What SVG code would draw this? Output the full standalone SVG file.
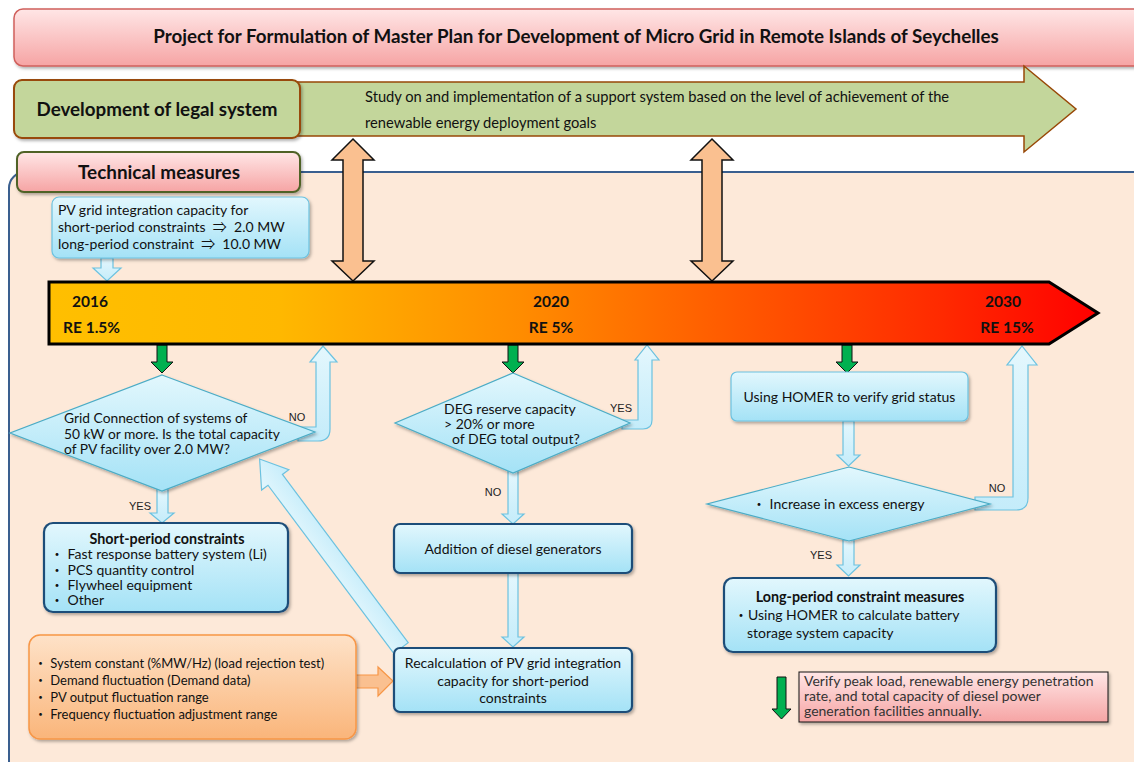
<svg xmlns="http://www.w3.org/2000/svg" width="1134" height="762" viewBox="0 0 1134 762">
<defs>
<linearGradient id="gPink" x1="0" y1="0" x2="0" y2="1"><stop offset="0" stop-color="#ffe6e6"/><stop offset="1" stop-color="#f6a4a4"/></linearGradient>
<linearGradient id="gBlue" x1="0" y1="0" x2="0" y2="1"><stop offset="0" stop-color="#e2f7fd"/><stop offset="1" stop-color="#a4e2f6"/></linearGradient>
<linearGradient id="gArrowBlue" x1="0" y1="0" x2="0" y2="1"><stop offset="0" stop-color="#e4f7fd"/><stop offset="1" stop-color="#c4ecfa"/></linearGradient>
<linearGradient id="gOrange" x1="0" y1="0" x2="0" y2="1"><stop offset="0" stop-color="#fee2c8"/><stop offset="1" stop-color="#fab57a"/></linearGradient>
<linearGradient id="gTime" x1="0" y1="0" x2="1" y2="0"><stop offset="0" stop-color="#ffbf00"/><stop offset="0.22" stop-color="#ffb800"/><stop offset="0.45" stop-color="#ff8c00"/><stop offset="0.65" stop-color="#ff5a00"/><stop offset="0.85" stop-color="#ff2a00"/><stop offset="1" stop-color="#ff0000"/></linearGradient>
<filter id="sh" x="-10%" y="-10%" width="125%" height="140%"><feDropShadow dx="1.5" dy="2" stdDeviation="1.5" flood-color="#000" flood-opacity="0.3"/></filter>
<style>
text{font-family:Lato,"Liberation Sans","Noto Sans CJK JP",sans-serif;fill:#111}
.b{font-weight:bold}
.t13{font-size:13px}
.t14{font-size:14px}
.lbl{font-family:"Liberation Sans",Arial,sans-serif;font-size:11px;fill:#222}
.node{fill:url(#gBlue);filter:url(#sh)}
.dk{stroke:#1f4e79;stroke-width:2.2}
.lt{stroke:#6cc2e0;stroke-width:1.2}
.dia{fill:url(#gBlue);stroke:#4bacc6;stroke-width:1.2;filter:url(#sh)}
.ab{fill:url(#gArrowBlue);stroke:#6cc2e0;stroke-width:1.2}
.ag{fill:#00b050;stroke:#111;stroke-width:1}
.ao{fill:#fac090;stroke:#111;stroke-width:1.5}
</style>
</defs>
<rect width="1134" height="762" fill="#ffffff"/>

<g id="header">
<rect x="14" y="9" width="1140" height="57" rx="9" fill="url(#gPink)" stroke="#d0605c" stroke-width="1.5" filter="url(#sh)"/>
<text x="576" y="43" text-anchor="middle" class="b" font-size="18.8">Project for Formulation of Master Plan for Development of Micro Grid in Remote Islands of Seychelles</text>
</g>

<g id="legal">
<path d="M290 82 L1024 82 L1024 66 L1076 109 L1024 152 L1024 136 L290 136 Z" fill="#c3d69b" stroke="#984807" stroke-width="1.5"/>
<rect x="14" y="80" width="286" height="58" rx="8" fill="#c3d69b" stroke="#984807" stroke-width="2" filter="url(#sh)"/>
<text x="157" y="116" text-anchor="middle" class="b" font-size="18.8">Development of legal system</text>
<text x="365" y="102" font-size="14.7">Study on and implementation of a support system based on the level of achievement of the</text>
<text x="365" y="128" font-size="14.7">renewable energy deployment goals</text>
</g>

<g id="technical-area">
<rect x="9" y="172" width="1150" height="610" rx="16" fill="#fde9d9" stroke="#3a5f8f" stroke-width="2"/>
</g>

<g id="technical-label">
<rect x="17" y="152" width="283" height="40" rx="7" fill="url(#gPink)" stroke="#4f6228" stroke-width="2" filter="url(#sh)"/>
<text x="159" y="179" text-anchor="middle" class="b" font-size="18.9">Technical measures</text>
</g>

<g id="connectors">
<path class="ao" d="M353 139 L374 160 L363 160 L363 261 L374 261 L353 281 L332 261 L343 261 L343 160 L332 160 Z"/>
<path class="ao" d="M712 139 L733 160 L722 160 L722 261 L733 261 L712 281 L691 261 L702 261 L702 160 L691 160 Z"/>
<path class="ab" d="M101 258 L113 258 L113 268 L121 268 L107 281 L93 268 L101 268 Z"/>
<path class="ag" d="M157 345 L167 345 L167 362 L173 362 L162 373 L151 362 L157 362 Z"/>
<path class="ag" d="M508 345 L518 345 L518 362 L524 362 L513 373 L502 362 L508 362 Z"/>
<path class="ag" d="M842 345 L852 345 L852 362 L858 362 L847 373 L836 362 L842 362 Z"/>
<path class="ab" d="M298 427 L316 427 L316 362 L310 362 L323 346 L337 362 L330 362 L330 429 Q330 441 318 441 L298 441 Z"/>
<path class="ab" d="M622 420 L638 420 L638 360 L635 360 L647 345 L659 360 L652 360 L652 420 Q652 429 643 429 L622 429 Z"/>
<path class="ab" d="M975 497 L1013 497 L1013 365 L1007 365 L1022 346 L1037 365 L1028 365 L1028 498 Q1028 510 1016 510 L975 510 Z"/>
<path class="ab" d="M157 489 L168 489 L168 513 L174 513 L162 523 L150 513 L157 513 Z"/>
<path class="ab" d="M508 471 L518 471 L518 514 L524 514 L513 524 L502 514 L508 514 Z"/>
<path class="ab" d="M508 573 L518 573 L518 637 L524 637 L513 647 L502 637 L508 637 Z"/>
<path class="ab" d="M843 421 L854 421 L854 455 L860 455 L848.5 466 L837 455 L843 455 Z"/>
<path class="ab" d="M843 540 L854 540 L854 565 L860 565 L848.5 576 L837 565 L843 565 Z"/>
<path class="ab" transform="translate(401,648) rotate(-126.8)" d="M0 -9 L210 -9 L210 -17 L236 0 L210 17 L210 9 L0 9 Z"/>
<path d="M355 675 L378 675 L378 667 L393 681 L378 696 L378 688 L355 688 Z" fill="#fac090" stroke="#f79646" stroke-width="1.2"/>
</g>

<g id="pv-capacity">
<rect x="52" y="197" width="257" height="61" rx="7" class="node lt"/>
<text x="58" y="215" class="t14">PV grid integration capacity for</text>
<text x="58" y="232" class="t14" xml:space="preserve">short-period constraints  ⇒  2.0 MW</text>
<text x="58" y="249" class="t14" xml:space="preserve">long-period constraint  ⇒  10.0 MW</text>
</g>

<g id="timeline">
<path d="M49 282 L1049 282 L1098 313 L1049 344 L49 344 Z" fill="url(#gTime)" stroke="#000" stroke-width="3" stroke-linejoin="miter"/>
<text x="72" y="307" class="b" font-size="15.5">2016</text>
<text x="63" y="333" class="b" font-size="15.5">RE 1.5%</text>
<text x="551" y="307" text-anchor="middle" class="b" font-size="15.5">2020</text>
<text x="551" y="333" text-anchor="middle" class="b" font-size="15.5">RE 5%</text>
<text x="1003" y="307" text-anchor="middle" class="b" font-size="15.5">2030</text>
<text x="1007" y="333" text-anchor="middle" class="b" font-size="15.5">RE 15%</text>
</g>

<g id="decision-grid">
<path class="dia" d="M162 375 L315 432 L162 491 L10 433 Z"/>
<text x="64" y="423" font-size="13.8">Grid Connection of systems of</text>
<text x="64" y="438.5" font-size="13.8">50 kW or more. Is the total capacity</text>
<text x="64" y="454" font-size="13.8">of PV facility over 2.0 MW?</text>
<text x="297" y="421" text-anchor="middle" class="lbl">NO</text>
<text x="140" y="510" text-anchor="middle" class="lbl">YES</text>
</g>

<g id="short-period">
<rect x="44" y="523" width="244" height="89" rx="9" class="node dk"/>
<text x="167" y="544" text-anchor="middle" class="b" font-size="14.3">Short-period constraints</text>
<text x="50" y="559" font-size="14">・ Fast response battery system (Li)</text>
<text x="50" y="574.5" font-size="14">・ PCS quantity control</text>
<text x="50" y="589.5" font-size="14">・ Flywheel equipment</text>
<text x="50" y="604.5" font-size="14">・ Other</text>
</g>

<g id="decision-deg">
<path class="dia" d="M513 373 L630 423 L513 473 L395 423 Z"/>
<text x="444" y="413.5" class="t14">DEG reserve capacity</text>
<text x="444" y="429" class="t14">&gt; 20% or more</text>
<text x="452" y="444" class="t14">of DEG total output?</text>
<text x="621" y="412" text-anchor="middle" class="lbl">YES</text>
<text x="493" y="496" text-anchor="middle" class="lbl">NO</text>
</g>

<g id="addition">
<rect x="394" y="524" width="238" height="49" rx="6" class="node dk"/>
<text x="513" y="554" text-anchor="middle" class="t14">Addition of diesel generators</text>
</g>

<g id="recalculation">
<rect x="394" y="648" width="238" height="64" rx="6" class="node dk"/>
<text x="513" y="668" text-anchor="middle" class="t14">Recalculation of PV grid integration</text>
<text x="513" y="686" text-anchor="middle" class="t14">capacity for short-period</text>
<text x="513" y="703" text-anchor="middle" class="t14">constraints</text>
</g>

<g id="inputs">
<rect x="29" y="635" width="327" height="104" rx="11" fill="url(#gOrange)" stroke="#f79646" stroke-width="1.5" filter="url(#sh)"/>
<text x="34" y="668" class="t13">・ System constant (%MW/Hz) (load rejection test)</text>
<text x="34" y="685" class="t13">・ Demand fluctuation (Demand data)</text>
<text x="34" y="702" class="t13">・ PV output fluctuation range</text>
<text x="34" y="719" class="t13">・ Frequency fluctuation adjustment range</text>
</g>

<g id="homer-verify">
<rect x="731" y="372" width="237" height="49" rx="6" class="node lt"/>
<text x="849.5" y="402" text-anchor="middle" class="t14">Using HOMER to verify grid status</text>
</g>

<g id="decision-excess">
<path class="dia" d="M849 467 L990 504 L849 541 L707 504 Z"/>
<text x="752" y="509" class="t14">・ Increase in excess energy</text>
<text x="997" y="492" text-anchor="middle" class="lbl">NO</text>
<text x="821" y="559" text-anchor="middle" class="lbl">YES</text>
</g>

<g id="long-period">
<rect x="724" y="578" width="272" height="74" rx="9" class="node dk"/>
<text x="860" y="602" text-anchor="middle" class="b" font-size="14.3">Long-period constraint measures</text>
<text x="734" y="620" class="t14">・Using HOMER to calculate battery</text>
<text x="747" y="638" class="t14">storage system capacity</text>
</g>

<g id="legend">
<path class="ag" d="M777 677 L786 677 L786 709 L791 709 L781.5 719 L772 709 L777 709 Z"/>
<rect x="799" y="672" width="309" height="50" fill="url(#gPink)" stroke="#111" stroke-width="1" filter="url(#sh)"/>
<text x="804" y="686" font-size="14" style="fill:#333">Verify peak load, renewable energy penetration</text>
<text x="804" y="701" font-size="14" style="fill:#333">rate, and total capacity of diesel power</text>
<text x="804" y="716" font-size="14" style="fill:#333">generation facilities annually.</text>
</g>
</svg>
